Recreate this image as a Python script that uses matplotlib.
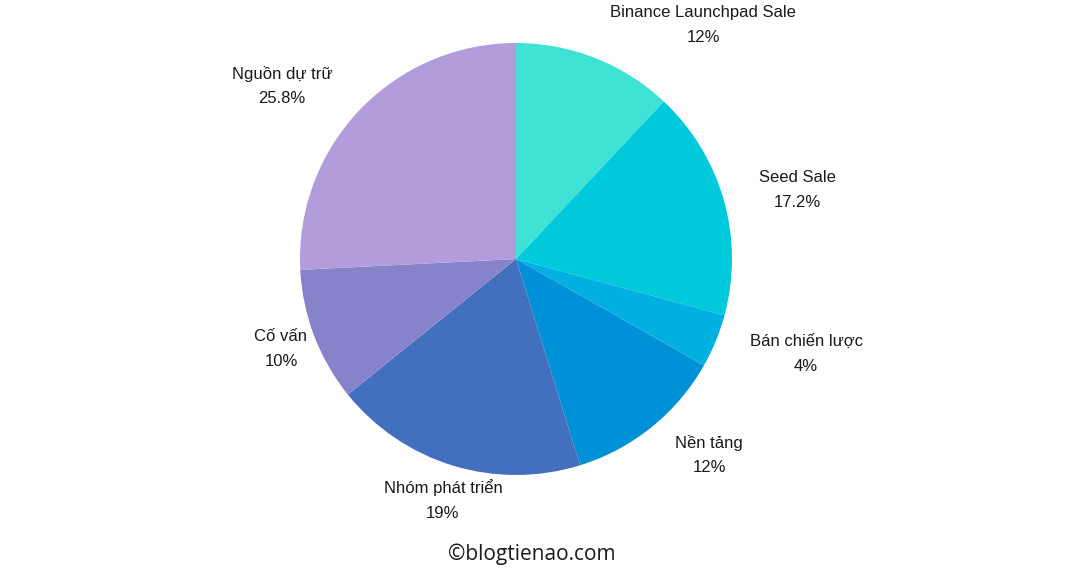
import numpy as np
import matplotlib.pyplot as plt

labels = ['Binance Launchpad Sale', 'Seed Sale', 'Bán chiến lược', 'Nền tảng',
          'Nhóm phát triển', 'Cố vấn', 'Nguồn dự trữ']
values = [12, 17.2, 4, 12, 19, 10, 25.8]
pct_text = ['12%', '17.2%', '4%', '12%', '19%', '10%', '25.8%']
colors = ['#3ee3d6', '#00c9db', '#00b0e0', '#0090d8', '#436fbf', '#8683cb', '#b39cdb']
# label centres, in units of the pie radius
lab_pos = [(0.866, 1.083), (1.301, 0.319), (1.343, -0.440), (0.894, -0.907),
           (-0.338, -1.116), (-1.088, -0.417), (-1.083, 0.801)]

W, H = 1068, 580
cx, cy, R = 516, 259, 216   # pie centre / radius in pixels

fig = plt.figure(figsize=(W/100, H/100), dpi=100)
ax = fig.add_axes([0, 0, 1, 1])
ax.pie(values, colors=colors, startangle=90, counterclock=False, radius=1,
       wedgeprops=dict(linewidth=0))
ax.set_xlim(-cx/R, (W-cx)/R)
ax.set_ylim(-(H-cy)/R, cy/R)
ax.set_aspect('equal')
ax.axis('off')

for lab, p, (x, y) in zip(labels, pct_text, lab_pos):
    ax.text(x, y, lab + '\n' + p, ha='center', va='center', fontsize=12,
            family='Liberation Sans', color='#1a1a1a', linespacing=1.8)

fig.text(532/W, 1-554/H, '©blogtienao.com', ha='center', va='center',
         fontsize=15, family='Open Sans', color='#1a1a1a')

plt.savefig('out.png', dpi=100)
